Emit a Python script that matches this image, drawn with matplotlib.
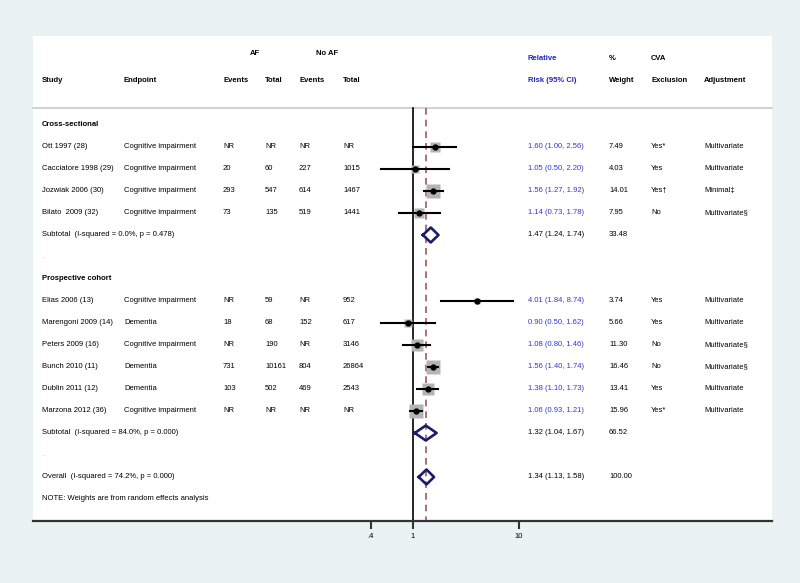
import matplotlib.pyplot as plt
import matplotlib.transforms as mtransforms
import numpy as np

plt.rcParams['font.family'] = ['Liberation Sans', 'DejaVu Sans']

# данные исследований
studies = ['Ott 1997 (28)', 'Cacciatore 1998 (29)', 'Jozwiak 2006 (30)', 'Bilato  2009 (32)',
           'Elias 2006 (13)', 'Marengoni 2009 (14)', 'Peters 2009 (16)', 'Bunch 2010 (11)',
           'Dublin 2011 (12)', 'Marzona 2012 (36)']
endpoints = ['Cognitive impairment', 'Cognitive impairment', 'Cognitive impairment', 'Cognitive impairment',
             'Cognitive impairment', 'Dementia', 'Cognitive impairment', 'Dementia',
             'Dementia', 'Cognitive impairment']
af_events = ['NR', '20', '293', '73', 'NR', '18', 'NR', '731', '103', 'NR']
af_total = ['NR', '60', '547', '135', '59', '68', '190', '10161', '502', 'NR']
noaf_events = ['NR', '227', '614', '519', 'NR', '152', 'NR', '804', '469', 'NR']
noaf_total = ['NR', '1015', '1467', '1441', '952', '617', '3146', '26864', '2543', 'NR']
rr = [1.60, 1.05, 1.56, 1.14, 4.01, 0.90, 1.08, 1.56, 1.38, 1.06]
lo = [1.00, 0.50, 1.27, 0.73, 1.84, 0.50, 0.80, 1.40, 1.10, 0.93]
hi = [2.56, 2.20, 1.92, 1.78, 8.74, 1.62, 1.46, 1.74, 1.73, 1.21]
weight = [7.49, 4.03, 14.01, 7.95, 3.74, 5.66, 11.30, 16.46, 13.41, 15.96]
cva = ['Yes*', 'Yes', 'Yes\u2020', 'No', 'Yes', 'Yes', 'No', 'No', 'Yes', 'Yes*']
adjust = ['Multivariate', 'Multivariate', 'Minimal\u2021', 'Multivariate\u00a7', 'Multivariate',
          'Multivariate', 'Multivariate\u00a7', 'Multivariate\u00a7', 'Multivariate', 'Multivariate']
study_rows = [1, 2, 3, 4, 8, 9, 10, 11, 12, 13]

# суммарные оценки
pooled_labels = ['Subtotal  (I-squared = 0.0%, p = 0.478)', 'Subtotal  (I-squared = 84.0%, p = 0.000)',
                 'Overall  (I-squared = 74.2%, p = 0.000)']
pooled_rr = [1.47, 1.32, 1.34]
pooled_lo = [1.24, 1.04, 1.13]
pooled_hi = [1.74, 1.67, 1.58]
pooled_w = [33.48, 66.52, 100.00]
pooled_rows = [5, 14, 16]

groups = ['Cross-sectional', 'Prospective cohort']
group_rows = [0, 7]
xticks = [0.4, 1, 10]
xticklabels = ['.4', '1', '10']

W, H = 800, 583
fig = plt.figure(figsize=(8, 5.83), dpi=100, facecolor='#eaf2f3')
ax = fig.add_axes([33 / W, 1 - 521 / H, (772 - 33) / W, (521 - 36) / H])
ax.set_xscale('log')
ax.set_xlim(10 ** ((33 - 413) / 106), 10 ** ((772 - 413) / 106))
ax.set_ylim(18, -4.045)

for s in ['left', 'right', 'top']:
    ax.spines[s].set_visible(False)
ax.spines['bottom'].set_linewidth(1.6)
ax.spines['bottom'].set_color('#333333')
ax.set_yticks([])
ax.set_xticks(xticks)
ax.set_xticklabels(xticklabels, fontsize=5.5)
ax.xaxis.set_minor_locator(plt.NullLocator())
ax.tick_params(axis='x', length=6, width=1.5, color='#333333', pad=3)

bt = mtransforms.blended_transform_factory(fig.transFigure, ax.transData)
fs = 5.5
blue = '#3535d0'

def txt(xpx, y, s, **kw):
    kw.setdefault('fontsize', fs)
    kw.setdefault('va', 'center')
    ax.text(xpx / W, y, s, transform=bt, **kw)

# шапка
ax.plot([0, 1], [-0.773, -0.773], transform=mtransforms.blended_transform_factory(ax.transAxes, ax.transData),
        color='#c8c8c8', lw=1.2, clip_on=False)
txt(255, -3.27, 'AF', ha='center', fontweight='bold')
txt(327, -3.27, 'No AF', ha='center', fontweight='bold')
for x, s in [(42, 'Study'), (124, 'Endpoint'), (223, 'Events'), (265, 'Total'),
             (299, 'Events'), (343, 'Total'), (609, 'Weight'), (651, 'Exclusion'), (704, 'Adjustment')]:
    txt(x, -2, s, fontweight='bold')
txt(528, -3, 'Relative', fontweight='bold', color='#2323c0')
txt(528, -2, 'Risk (95% CI)', fontweight='bold', color='#2323c0')
txt(609, -3, '%', fontweight='bold')
txt(651, -3, 'CVA', fontweight='bold')

# линии отсутствия эффекта и общего эффекта
ax.plot([1, 1], [-0.773, 18], color='black', lw=1.2)
ax.plot([pooled_rr[2]] * 2, [-0.773, 18], color='#a05a5a', lw=1.2, ls=(0, (4, 3)))

for g, r in zip(groups, group_rows):
    txt(42, r, g, fontweight='bold')
for r in [6, 15]:
    txt(42, r, '.', color='#aaaaaa')

for i, r in enumerate(study_rows):
    txt(42, r, studies[i])
    txt(124, r, endpoints[i])
    txt(223, r, af_events[i])
    txt(265, r, af_total[i])
    txt(299, r, noaf_events[i])
    txt(343, r, noaf_total[i])
    txt(528, r, '%.2f (%.2f, %.2f)' % (rr[i], lo[i], hi[i]), color=blue)
    txt(609, r, '%.2f' % weight[i])
    txt(651, r, cva[i])
    txt(704, r, adjust[i])
    side = 3.5 * np.sqrt(weight[i]) * 0.72
    ax.plot(rr[i], r, marker='s', ms=side, color='#b4b4b4', mec='none', zorder=2)
    ax.plot([lo[i], hi[i]], [r, r], color='black', lw=1.5, zorder=3)
    ax.plot(rr[i], r, marker='o', ms=3.5, color='black', zorder=4)

for i, r in enumerate(pooled_rows):
    txt(42, r, pooled_labels[i])
    txt(528, r, '%.2f (%.2f, %.2f)' % (pooled_rr[i], pooled_lo[i], pooled_hi[i]))
    txt(609, r, '%.2f' % pooled_w[i])
    dx = [pooled_lo[i], pooled_rr[i], pooled_hi[i], pooled_rr[i], pooled_lo[i]]
    dy = [r, r - 0.34, r, r + 0.34, r]
    ax.plot(dx, dy, color='#1c1c6e', lw=1.9, zorder=5)

txt(42, 17, 'NOTE: Weights are from random effects analysis')

fig.savefig('out.png', dpi=100, facecolor=fig.get_facecolor())
